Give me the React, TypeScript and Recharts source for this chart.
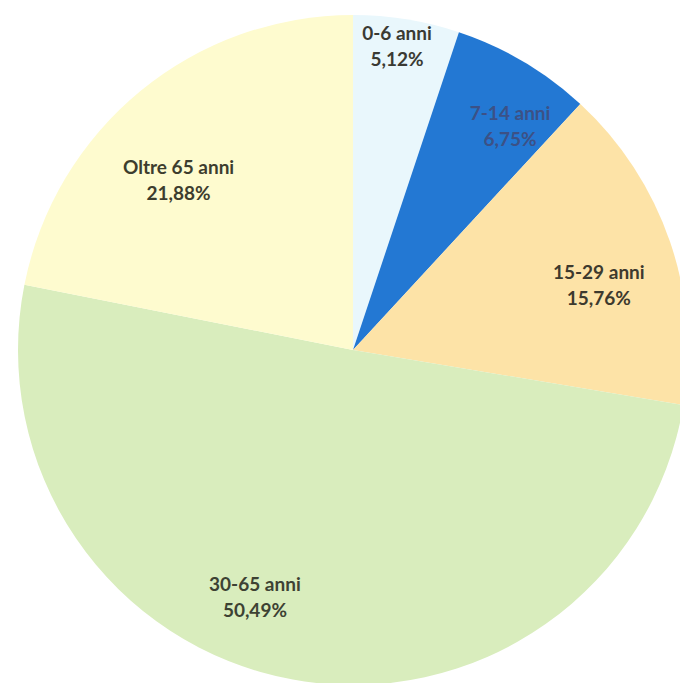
import React from 'react';
import { PieChart, Pie, Cell } from 'recharts';

// Age groups and their share (%)
const categories = ['0-6 anni', '7-14 anni', '15-29 anni', '30-65 anni', 'Oltre 65 anni'];
const shares = [5.12, 6.75, 15.76, 50.49, 21.88];

const COLORS = ['#e9f7fc', '#2378d3', '#fde3a7', '#d9edbd', '#fefbcf'];
const TEXT_COLORS = ['#3a3a33', '#3c5186', '#3d3a2e', '#3d4233', '#3d3d2e'];

// Excel "best fit" label placement: radius fraction and angle nudge per slice
const LABEL_RADIUS = [0.92, 0.82, 0.76, 0.79, 0.73];
const LABEL_ANGLE_SHIFT = [1, -4.3, -3.8, -11.4, 6.1];

const data = categories.map((name, i) => ({ name, value: shares[i] }));

const RADIAN = Math.PI / 180;

function renderLabel(props: any) {
  const { cx, cy, midAngle, outerRadius, index, value, name } = props;
  const r = outerRadius * LABEL_RADIUS[index];
  const a = (midAngle + LABEL_ANGLE_SHIFT[index]) * RADIAN;
  const x = cx + r * Math.cos(a);
  const y = cy - r * Math.sin(a);
  return (
    <text
      x={x}
      y={y}
      textAnchor="middle"
      fill={TEXT_COLORS[index]}
      fontFamily="Lato, 'Open Sans', sans-serif"
      fontWeight={700}
      fontSize={19}
    >
      <tspan x={x} dy={-5}>{name}</tspan>
      <tspan x={x} dy={26}>{value.toFixed(2).replace('.', ',')}%</tspan>
    </text>
  );
}

export default function App(): JSX.Element {
  return (
    <div style={{ position: 'fixed', top: 0, left: 0, width: 680, height: 683, background: '#ffffff', overflow: 'hidden' }}>
      <PieChart width={680} height={683} margin={{ top: 0, right: 0, bottom: 0, left: 0 }}>
        <Pie
          data={data}
          dataKey="value"
          nameKey="name"
          cx={353}
          cy={350}
          outerRadius={335}
          startAngle={90}
          endAngle={-270}
          stroke="none"
          labelLine={false}
          label={renderLabel}
          isAnimationActive={false}
        >
          {data.map((entry, index) => (
            <Cell key={`cell-${index}`} fill={COLORS[index]} />
          ))}
        </Pie>
      </PieChart>
    </div>
  );
}
